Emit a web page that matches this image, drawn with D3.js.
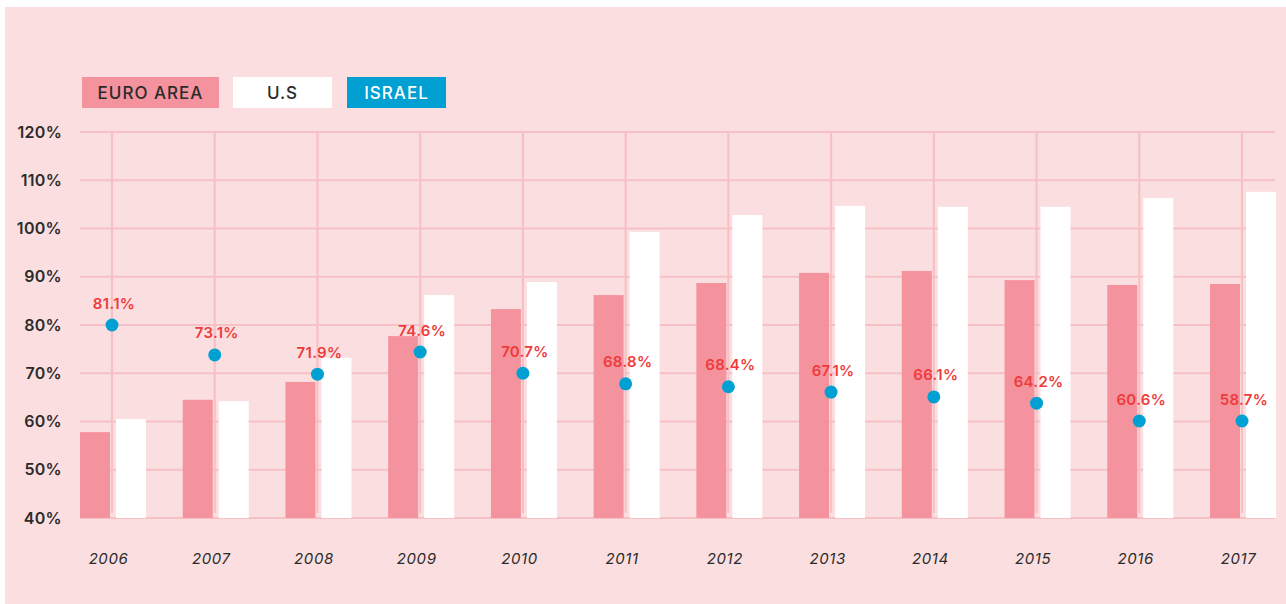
<!DOCTYPE html>
<html>
<head>
<meta charset="utf-8">
<script src="https://cdn.jsdelivr.net/npm/d3@7"></script>
<style>
  html, body { margin: 0; padding: 0; background: #ffffff; }
  svg { display: block; }
  text { font-family: Inter, "Noto Sans", sans-serif; }
</style>
</head>
<body>
<svg id="chart" width="1286" height="604"></svg>
<script>
const years = ["2006","2007","2008","2009","2010","2011","2012","2013","2014","2015","2016","2017"];
const euroArea = [57.8, 64.5, 68.2, 77.7, 83.3, 86.2, 88.7, 90.8, 91.2, 89.3, 88.3, 88.5];
const us = [60.5, 64.2, 73.2, 86.2, 88.9, 99.3, 102.8, 104.7, 104.5, 104.5, 106.3, 107.6];
const israel = [80.0, 73.8, 69.8, 74.4, 70.0, 67.8, 67.2, 66.1, 65.1, 63.8, 60.1, 60.1];
const israelLabels = ["81.1%","73.1%","71.9%","74.6%","70.7%","68.8%","68.4%","67.1%","66.1%","64.2%","60.6%","58.7%"];
const yTicks = [40, 50, 60, 70, 80, 90, 100, 110, 120];
const legendItems = ["EURO AREA", "U.S", "ISRAEL"];

const colors = {
  bg: "#fbdfe0",
  grid: "#f6c0c5",
  euro: "#f4929e",
  us: "#ffffff",
  israel: "#00a0d3",
  label: "#ee3b3b",
  text: "#2b2b2b"
};

const svg = d3.select("#chart");

// background panel
svg.append("rect").attr("x", 5).attr("y", 7).attr("width", 1281).attr("height", 597).attr("fill", colors.bg);

const x = d3.scalePoint().domain(years).range([112, 1242]);
const y = d3.scaleLinear().domain([40, 120]).range([518, 132]);

// horizontal grid
svg.append("g").selectAll("line").data(yTicks).join("line")
  .attr("x1", 80).attr("x2", 1275)
  .attr("y1", d => y(d)).attr("y2", d => y(d))
  .attr("stroke", colors.grid).attr("stroke-width", 2.2);

// vertical grid
svg.append("g").selectAll("line").data(years).join("line")
  .attr("x1", d => x(d)).attr("x2", d => x(d))
  .attr("y1", y(120)).attr("y2", y(40) - 5)
  .attr("stroke", colors.grid).attr("stroke-width", 2.2);

// y axis labels
const yAxis = d3.axisLeft(y).tickValues(yTicks).tickSize(0).tickPadding(0).tickFormat(d => d + "%");
const gy = svg.append("g").attr("transform", "translate(62,0)").call(yAxis);
gy.select(".domain").remove();
gy.selectAll("text")
  .attr("font-size", 16).attr("font-weight", 600).attr("fill", colors.text)
  .attr("letter-spacing", 0.3)
  .attr("font-family", "Inter, 'Noto Sans', sans-serif");

// bars
const barW = 30;
svg.append("g").selectAll("rect").data(years).join("rect")
  .attr("x", d => x(d) - 32).attr("width", barW)
  .attr("y", (d, i) => y(euroArea[i]))
  .attr("height", (d, i) => y(40) - y(euroArea[i]))
  .attr("fill", colors.euro);

svg.append("g").selectAll("rect").data(years).join("rect")
  .attr("x", d => x(d) + 4).attr("width", barW)
  .attr("y", (d, i) => y(us[i]))
  .attr("height", (d, i) => y(40) - y(us[i]))
  .attr("fill", colors.us);

// israel dots
svg.append("g").selectAll("circle").data(years).join("circle")
  .attr("cx", d => x(d)).attr("cy", (d, i) => y(israel[i]))
  .attr("r", 6.5).attr("fill", colors.israel);

// israel labels
svg.append("g").selectAll("text").data(years).join("text")
  .attr("x", d => x(d) + 2).attr("y", (d, i) => y(israel[i]) - 16.5)
  .attr("text-anchor", "middle")
  .attr("font-size", 15).attr("font-weight", 600).attr("fill", colors.label)
  .attr("letter-spacing", 0.3)
  .text((d, i) => israelLabels[i]);

// x axis labels
const xAxis = d3.axisBottom(x).tickSize(0).tickPadding(0);
const gx = svg.append("g").attr("transform", "translate(-4,0)").call(xAxis);
gx.select(".domain").remove();
gx.selectAll("text")
  .attr("y", 564).attr("dy", null)
  .attr("font-size", 15).attr("font-style", "italic").attr("fill", colors.text)
  .attr("letter-spacing", 0.6)
  .attr("font-family", "Inter, 'Noto Sans', sans-serif");

// legend
const legendBoxes = [
  { x: 82, w: 137, fill: colors.euro, color: colors.text },
  { x: 233, w: 99, fill: colors.us, color: colors.text },
  { x: 347, w: 99, fill: colors.israel, color: "#ffffff" }
];
const lg = svg.append("g");
lg.selectAll("rect").data(legendItems).join("rect")
  .attr("x", (d, i) => legendBoxes[i].x).attr("y", 77)
  .attr("width", (d, i) => legendBoxes[i].w).attr("height", 31)
  .attr("fill", (d, i) => legendBoxes[i].fill);
lg.selectAll("text").data(legendItems).join("text")
  .attr("x", (d, i) => legendBoxes[i].x + legendBoxes[i].w / 2).attr("y", 99)
  .attr("text-anchor", "middle")
  .attr("font-size", 17).attr("font-weight", 500).attr("letter-spacing", 1)
  .attr("fill", (d, i) => legendBoxes[i].color)
  .text(d => d);
</script>
</body>
</html>
